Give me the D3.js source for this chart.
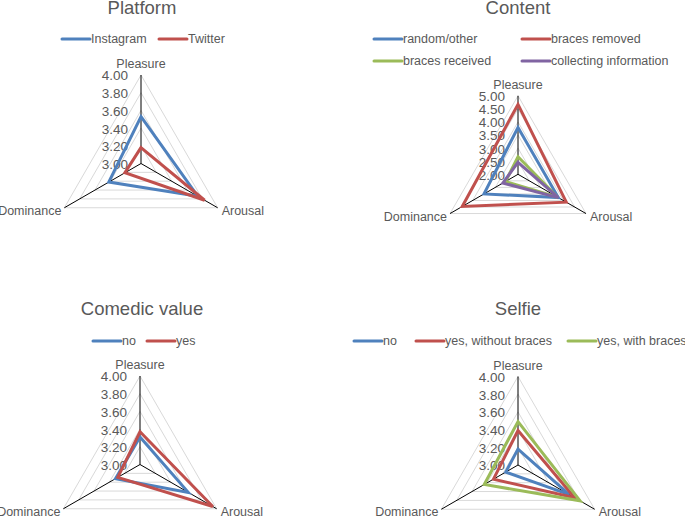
<!DOCTYPE html>
<html>
<head>
<meta charset="utf-8">
<script src="https://cdn.jsdelivr.net/npm/d3@7"></script>
<style>
  body { margin: 0; background: #fff; }
  svg { font-family: "Liberation Sans", Arial, sans-serif; }
</style>
</head>
<body>
<div id="chart"></div>
<script>
// axes shared by all four radars
var axisNames = ["Pleasure", "Arousal", "Dominance"];

var platformSeries = ["Instagram", "Twitter"];
var platformValues = [[3.53, 3.74, 3.42], [3.18, 3.83, 3.21]];
var platformTicks = [3.00, 3.20, 3.40, 3.60, 3.80, 4.00];

var contentSeries = ["random/other", "braces removed", "braces received", "collecting information"];
var contentValues = [[3.79, 3.78, 3.50], [4.67, 4.13, 4.46], [2.67, 3.75, 2.55], [2.46, 3.78, 2.67]];
var contentTicks = [2.00, 2.50, 3.00, 3.50, 4.00, 4.50, 5.00];

var comedicSeries = ["no", "yes"];
var comedicValues = [[3.31, 3.63, 3.32], [3.37, 3.95, 3.29]];
var comedicTicks = [3.00, 3.20, 3.40, 3.60, 3.80, 4.00];

var selfieSeries = ["no", "yes, without braces", "yes, with braces"];
var selfieValues = [[3.18, 3.67, 3.16], [3.39, 3.74, 3.32], [3.49, 3.81, 3.44]];
var selfieTicks = [3.00, 3.20, 3.40, 3.60, 3.80, 4.00];

var colors = ["#4F81BD", "#C0504D", "#9BBB59", "#8064A2"];

function init(){
    var w = 685;
    var h = 517;
    var textColor = "#595959";

    var svg = d3.select("#chart")
      .append("svg")
      .attr("width", w)
      .attr("height", h);

    // layout of each panel (positions only)
    var panels = [
      { title: "Platform", series: platformSeries, values: platformValues, ticks: platformTicks,
        tx: 142, ty: 14, cx: 141, cy: 163.5, r: 88.5,
        legend: [[62, 39], [159, 39]] },
      { title: "Content", series: contentSeries, values: contentValues, ticks: contentTicks,
        tx: 518, ty: 14, cx: 518, cy: 174.3, r: 78.5,
        legend: [[374, 39], [522, 39], [374, 61], [522, 61]] },
      { title: "Comedic value", series: comedicSeries, values: comedicValues, ticks: comedicTicks,
        tx: 142, ty: 315, cx: 140, cy: 464.5, r: 88.5,
        legend: [[93, 341], [147, 341]] },
      { title: "Selfie", series: selfieSeries, values: selfieValues, ticks: selfieTicks,
        tx: 518, ty: 315, cx: 518, cy: 465, r: 88.5,
        legend: [[354, 341], [416, 341], [568, 341]] }
    ];

    var angle = function(i){ return i * 2 * Math.PI / axisNames.length; };

    panels.forEach(function(p){
        var g = svg.append("g").attr("transform", "translate(" + p.cx + "," + p.cy + ")");

        var rScale = d3.scaleLinear()
          .domain(d3.extent(p.ticks))
          .range([0, p.r]);

        var pt = function(v, i){
            var a = angle(i);
            return [Math.sin(a) * rScale(v), -Math.cos(a) * rScale(v)];
        };

        // title
        svg.append("text")
          .attr("x", p.tx).attr("y", p.ty)
          .attr("text-anchor", "middle")
          .attr("font-size", "18.5px")
          .attr("fill", textColor)
          .text(p.title);

        // grid triangles
        g.selectAll(".grid")
          .data(p.ticks.slice(1))
          .enter()
          .append("polygon")
          .attr("points", function(t){
              return axisNames.map(function(n, i){ return pt(t, i).join(","); }).join(" ");
          })
          .attr("fill", "none")
          .attr("stroke", "#d9d9d9")
          .attr("stroke-width", 1);

        // spokes
        g.selectAll(".spoke")
          .data(axisNames)
          .enter()
          .append("line")
          .attr("x1", 0).attr("y1", 0)
          .attr("x2", function(d, i){ return pt(rScale.domain()[1], i)[0]; })
          .attr("y2", function(d, i){ return pt(rScale.domain()[1], i)[1]; })
          .attr("stroke", "#000")
          .attr("stroke-width", 1);

        // tick labels
        g.selectAll(".tick")
          .data(p.ticks)
          .enter()
          .append("text")
          .attr("x", -13)
          .attr("y", function(t){ return -rScale(t); })
          .attr("dy", "0.4em")
          .attr("text-anchor", "end")
          .attr("font-size", "13.5px")
          .attr("fill", textColor)
          .text(function(t){ return d3.format(".2f")(t); });

        // category labels
        axisNames.forEach(function(n, i){
            var v = pt(rScale.domain()[1], i);
            var lab = g.append("text")
              .attr("font-size", "12.5px")
              .attr("fill", textColor)
              .text(n);
            if (i === 0) {
                lab.attr("x", v[0]).attr("y", v[1] - 7).attr("text-anchor", "middle");
            } else if (i === 1) {
                lab.attr("x", v[0] + 4).attr("y", v[1] + 7).attr("text-anchor", "start");
            } else {
                lab.attr("x", v[0] - 3).attr("y", v[1] + 7).attr("text-anchor", "end");
            }
        });

        // series
        var line = d3.lineRadial()
          .angle(function(d, i){ return angle(i); })
          .radius(function(d){ return rScale(d); })
          .curve(d3.curveLinearClosed);

        g.selectAll(".series")
          .data(p.values)
          .enter()
          .append("path")
          .attr("d", line)
          .attr("fill", "none")
          .attr("stroke", function(d, i){ return colors[i]; })
          .attr("stroke-width", 3)
          .attr("stroke-linejoin", "miter");

        // legend
        p.series.forEach(function(s, i){
            var lx = p.legend[i][0], ly = p.legend[i][1];
            svg.append("line")
              .attr("x1", lx).attr("x2", lx + 28)
              .attr("y1", ly).attr("y2", ly)
              .attr("stroke", colors[i])
              .attr("stroke-width", 3)
              .attr("stroke-linecap", "round");
            svg.append("text")
              .attr("x", lx + 29).attr("y", ly)
              .attr("dy", "0.35em")
              .attr("font-size", "12.5px")
              .attr("fill", textColor)
              .text(s);
        });
    });
}

window.onload = init;
</script>
</body>
</html>
